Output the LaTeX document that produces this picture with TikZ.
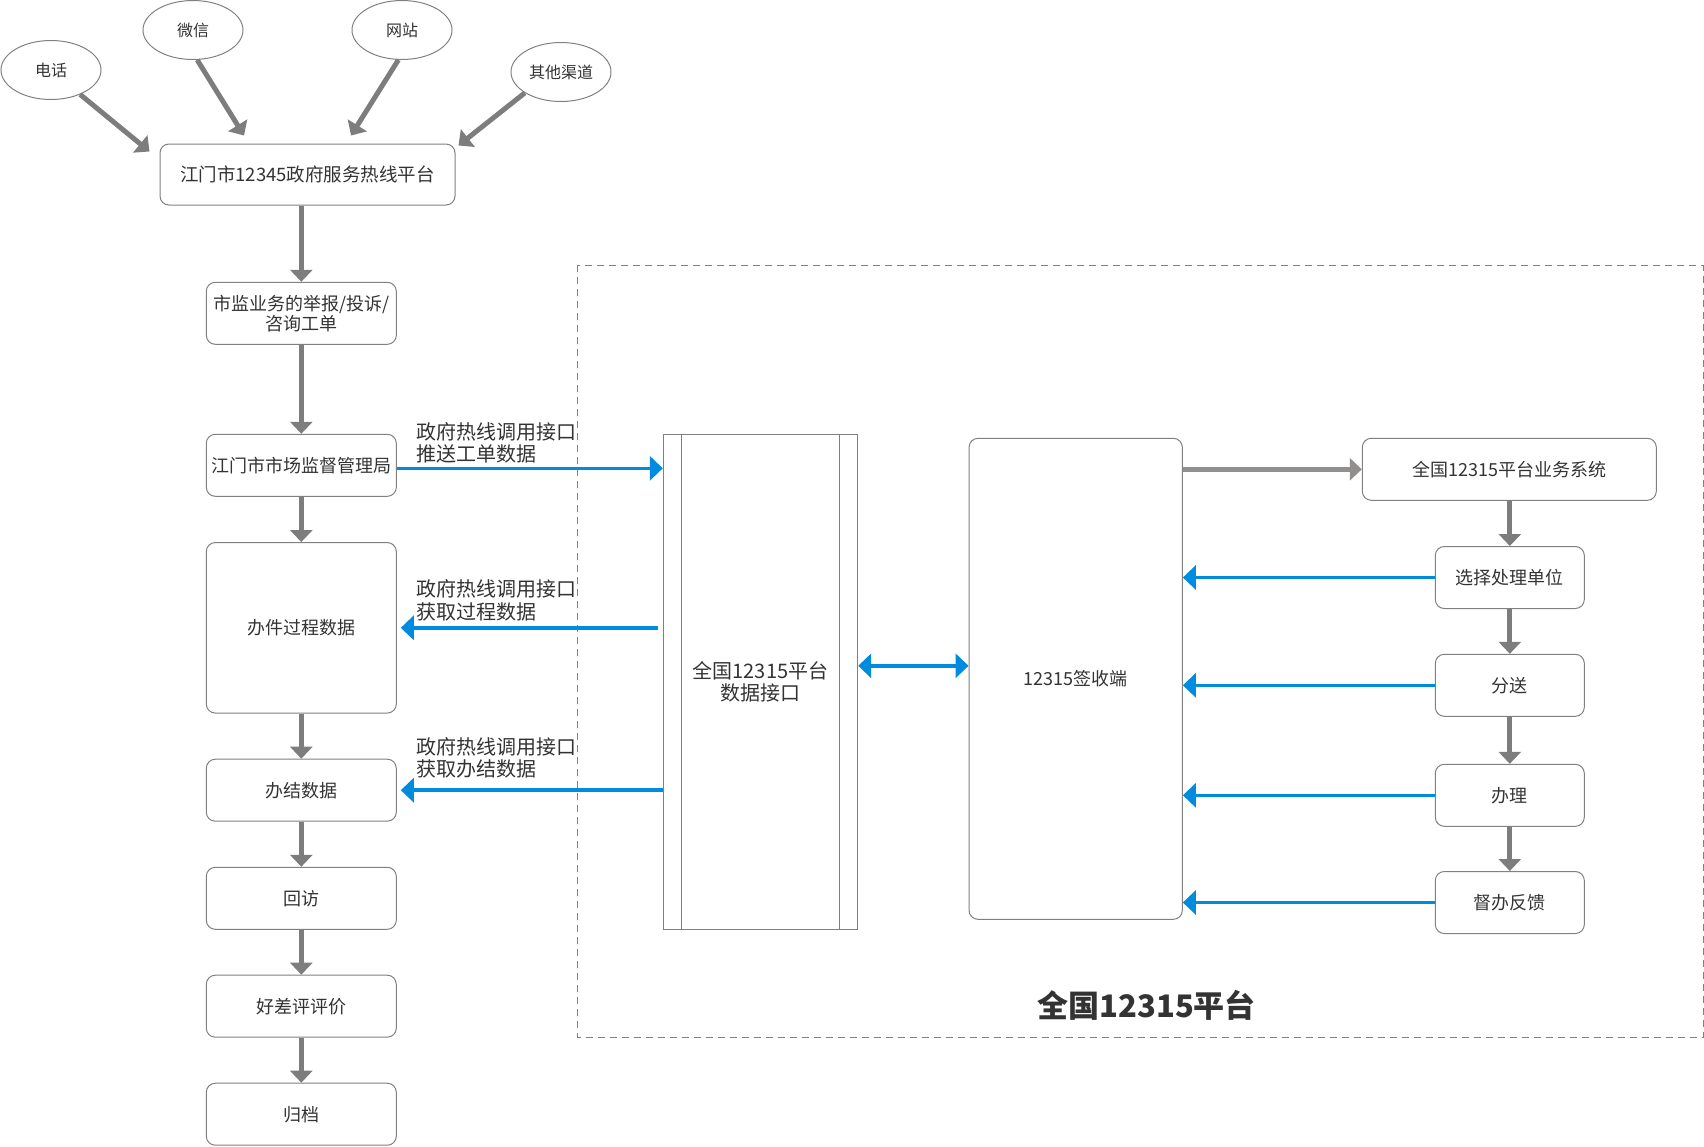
\documentclass[tikz,border=0pt]{standalone}
\usepackage{fontspec}
\setmainfont{Noto Sans CJK SC}
\usetikzlibrary{arrows.meta,shapes.geometric}
\definecolor{linegray}{RGB}{128,128,128}
\definecolor{arrgray}{RGB}{125,125,125}
\definecolor{arrgraylt}{RGB}{147,142,142}
\definecolor{arrblue}{RGB}{0,140,222}
\definecolor{txt}{RGB}{51,51,51}
\newcommand{\fsz}[1]{\fontsize{#1}{#1}\selectfont}

\tikzset{
  box/.style={draw=linegray, line width=1pt, rounded corners=9pt, text=txt,
    font=\fsz{18}, inner sep=0pt, align=center,
    minimum width=190pt, minimum height=62pt},
  rbox/.style={box, minimum width=149pt},
  src/.style={ellipse, draw=linegray, line width=1pt, text=txt, font=\fsz{16},
    inner sep=0pt, minimum width=100pt, minimum height=59pt},
  lbl/.style={anchor=west, inner sep=0pt, align=left, text=txt,
    font=\fontsize{20}{22.5}\selectfont},
  garr/.style={draw=arrgray, line width=5pt, -{Triangle[width=22pt,length=12pt]}},
  barr/.style={draw=arrblue, line width=3.5pt, -{Triangle[width=24pt,length=13pt]}},
}

\begin{document}
\begin{tikzpicture}[x=1pt,y=-1pt]
\useasboundingbox (0,0) rectangle (1704,1146);
% platform frame
\draw[linegray, line width=1pt, dash pattern=on 7pt off 5pt]
  (577.7,265.3) rectangle (1703,1037.3);
\node[text=txt, font=\bfseries\fsz{31}] (pt) at (1146.7,1005) {全国12315平台};

% sources
\node[src] (dh) at (51,70) {电话};
\node[src] (wx) at (193,30) {微信};
\node[src] (wz) at (402,30) {网站};
\node[src] (qt) at (561,72) {其他渠道};

% left column
\node[box, minimum width=295pt, minimum height=61pt, font=\fsz{18.5}] (rx) at (307.5,174.5) {江门市12345政府服务热线平台};
\node[box, font=\fontsize{18}{20}\selectfont] (jb) at (301.3,313.3) {市监业务的举报/投诉/\\咨询工单};
\node[box] (jgj) at (301.3,465.3) {江门市市场监督管理局};
\node[box, minimum height=170.5pt] (gc) at (301.3,627.8) {办件过程数据};
\node[box] (bj) at (301.3,790.2) {办结数据};
\node[box] (hf) at (301.3,898.3) {回访};
\node[box] (hcp) at (301.3,1006.2) {好差评评价};
\node[box] (gd) at (301.3,1114.2) {归档};

% interface and receiver
\node[draw=linegray, line width=1pt, text=txt, font=\fontsize{20}{22.7}\selectfont,
  align=center, minimum width=194.4pt, minimum height=495pt, inner sep=0pt]
  (sjjk) at (760.5,681.8) {全国12315平台\\数据接口};
\draw[linegray, line width=1pt] ([xshift=19pt]sjjk.north west) -- ([xshift=19pt]sjjk.south west)
  ([xshift=-19pt]sjjk.north east) -- ([xshift=-19pt]sjjk.south east);
\node[box, minimum width=213.3pt, minimum height=481pt] (qsd) at (1075.7,678.8) {12315签收端};

% right column
\node[box, minimum width=294pt] (ywxt) at (1509.3,469.3) {全国12315平台业务系统};
\node[rbox] (xz) at (1509.8,577.5) {选择处理单位};
\node[rbox] (fs) at (1509.8,685.3) {分送};
\node[rbox] (bl) at (1509.8,795.3) {办理};
\node[rbox] (db) at (1509.8,902.5) {督办反馈};

% labels
\node[lbl] (l1) at (416,443) {政府热线调用接口\\推送工单数据};
\node[lbl] (l2) at (416.7,600.5) {政府热线调用接口\\获取过程数据};
\node[lbl] (l3) at (416.7,757.7) {政府热线调用接口\\获取办结数据};

% source arrows
\draw[garr] (dh.-40) -- ([xshift=-10pt,yshift=-8pt]rx.north west);
\draw[garr] (wx.-82) -- ([xshift=-63.5pt,yshift=8pt]rx.north);
\draw[garr] (wz.-97) -- ([xshift=43.5pt,yshift=8pt]rx.north);
\draw[garr] (qt.-150) -- ([xshift=3pt,yshift=-2pt]rx.north east);

% left flow
\draw[garr] (jb.north |- rx.south) -- (jb.north);
\foreach \a/\b in {jb/jgj, jgj/gc, gc/bj, bj/hf, hf/hcp, hcp/gd}
  \draw[garr] (\a) -- (\b.north);

% right flow
\draw[garr, draw=arrgraylt] (ywxt.west -| qsd.east) -- (ywxt.west);
\draw[garr] (xz.north |- ywxt.south) -- (xz.north);
\foreach \a/\b in {xz/fs, fs/bl, bl/db}
  \draw[garr] (\a) -- (\b.north);

% data exchange
\draw[barr] ([yshift=-3pt]jgj.east) -- ([yshift=-3pt]jgj.east -| sjjk.west);
\draw[barr, shorten <=5pt, shorten >=4pt] (sjjk.west |- gc.east) -- (gc.east);
\draw[barr, shorten >=4pt] (sjjk.west |- bj.east) -- (bj.east);
\draw[barr, {Triangle[width=24pt,length=13pt]}-{Triangle[width=24pt,length=13pt]}]
  ([yshift=16pt]sjjk.east) -- ([yshift=13pt]qsd.west);
\foreach \n in {xz, fs, bl, db}
  \draw[barr] (\n.west) -- (\n.west -| qsd.east);
\end{tikzpicture}
\end{document}
